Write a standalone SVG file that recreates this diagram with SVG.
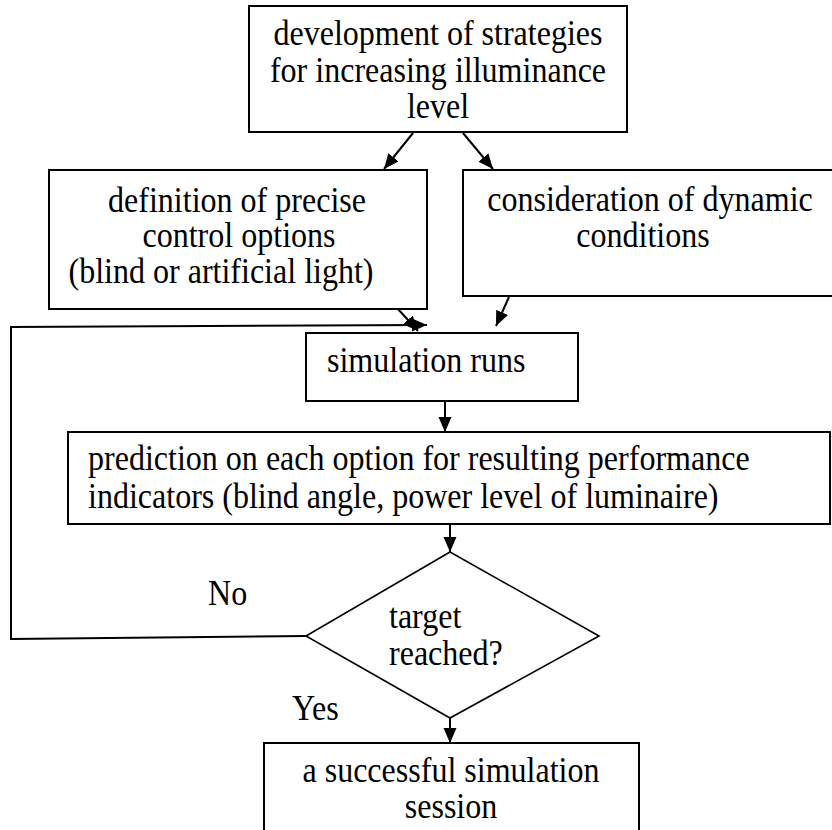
<svg xmlns="http://www.w3.org/2000/svg" width="832" height="830" viewBox="0 0 832 830">
  <style>
    .box { fill: #ffffff; stroke: #000000; stroke-width: 2; }
    .dia { fill: #ffffff; stroke: #000000; stroke-width: 1.6; }
    .edge { fill: none; stroke: #000000; stroke-width: 2; }
    text { font-family: "Liberation Serif", "Times New Roman", serif; font-size: 36px; fill: #000000; }
    .mid { text-anchor: middle; }
  </style>
  <defs>
    <marker id="arrow" markerUnits="userSpaceOnUse" markerWidth="16" markerHeight="14" refX="15" refY="6.5" orient="auto">
      <path d="M0,0 L15,6.5 L0,13 Z" fill="#000000"/>
    </marker>
  </defs>
  <rect x="0" y="0" width="832" height="830" fill="#ffffff"/>

  <!-- process steps; labels use a condensed serif (scaled 0.89 horizontally) -->
  <g id="strategies">
    <rect class="box" x="249" y="6" width="378" height="126"/>
    <text class="mid" transform="translate(438 45) scale(0.89 1)">development of strategies</text>
    <text class="mid" transform="translate(438 82) scale(0.89 1)">for increasing illuminance</text>
    <text class="mid" transform="translate(438 118) scale(0.89 1)">level</text>
  </g>

  <g id="control-options">
    <rect class="box" x="49" y="170" width="378" height="139"/>
    <text class="mid" transform="translate(237 212) scale(0.89 1)">definition of precise</text>
    <text class="mid" transform="translate(239 247) scale(0.89 1)">control options</text>
    <text class="mid" transform="translate(221 283) scale(0.89 1)">(blind or artificial light)</text>
  </g>

  <g id="dynamic-conditions">
    <rect class="box" x="463" y="170" width="380" height="126"/>
    <text class="mid" transform="translate(650 211) scale(0.89 1)">consideration of dynamic</text>
    <text class="mid" transform="translate(643 247) scale(0.89 1)">conditions</text>
  </g>

  <g id="simulation-runs">
    <rect class="box" x="306" y="333" width="272" height="68"/>
    <text transform="translate(327 372) scale(0.89 1)">simulation runs</text>
  </g>

  <g id="prediction">
    <rect class="box" x="68" y="432" width="762" height="92"/>
    <text transform="translate(88 470) scale(0.89 1)">prediction on each option for resulting performance</text>
    <text transform="translate(88 508) scale(0.89 1)">indicators (blind angle, power level of luminaire)</text>
  </g>

  <g id="target-check">
    <polygon class="dia" points="450,552 599,636 450,718 306,636"/>
    <text transform="translate(389 628) scale(0.89 1)">target</text>
    <text transform="translate(389 665) scale(0.89 1)">reached?</text>
  </g>

  <g id="success">
    <rect class="box" x="264" y="743" width="375" height="100"/>
    <text class="mid" transform="translate(451 782) scale(0.89 1)">a successful simulation</text>
    <text class="mid" transform="translate(451 818) scale(0.89 1)">session</text>
  </g>

  <!-- connectors -->
  <g id="connectors">
    <line class="edge" x1="413" y1="133" x2="384" y2="169" marker-end="url(#arrow)"/>
    <line class="edge" x1="463" y1="133" x2="493" y2="169" marker-end="url(#arrow)"/>
    <line class="edge" x1="398" y1="309" x2="418" y2="331" marker-end="url(#arrow)"/>
    <line class="edge" x1="509" y1="297" x2="496" y2="326" marker-end="url(#arrow)"/>
    <line class="edge" x1="445" y1="401" x2="445" y2="432" marker-end="url(#arrow)"/>
    <line class="edge" x1="450" y1="524" x2="450" y2="552" marker-end="url(#arrow)"/>
    <line class="edge" x1="450" y1="718" x2="450" y2="743" marker-end="url(#arrow)"/>
    <polyline class="edge" points="306,636 11,639 11,327 427,325" marker-end="url(#arrow)"/>
    <text transform="translate(208 605) scale(0.89 1)">No</text>
    <text transform="translate(292 720) scale(0.89 1)">Yes</text>
  </g>
</svg>
